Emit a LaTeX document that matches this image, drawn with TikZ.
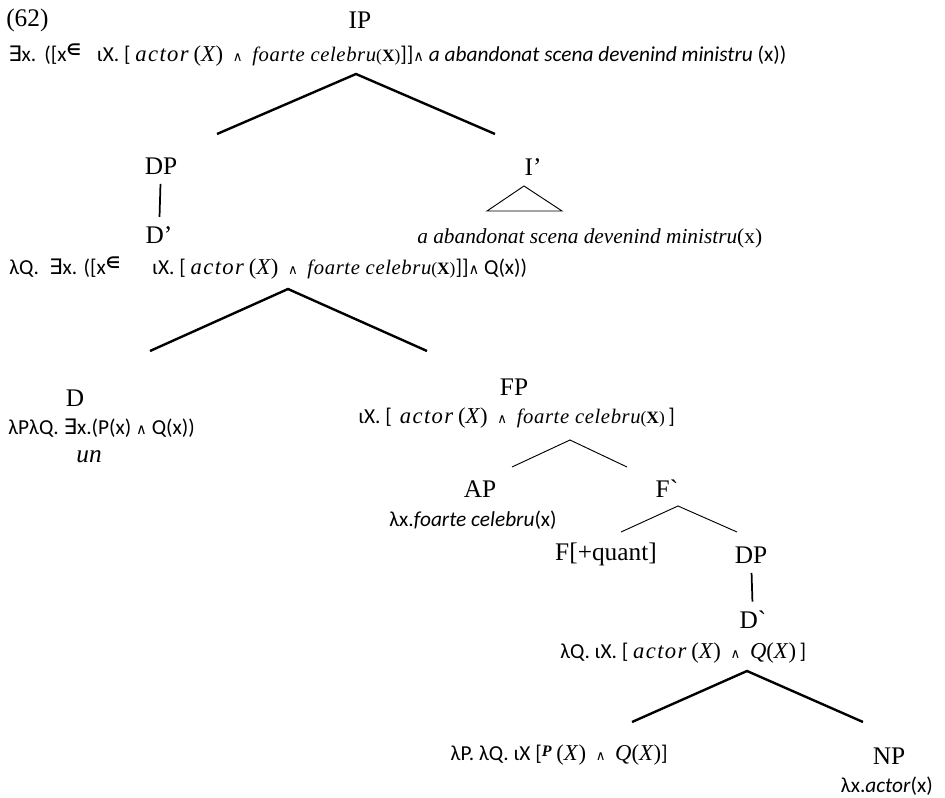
\documentclass[tikz,border=0pt]{standalone}
\usepackage{fontspec}
\setmainfont{Liberation Serif}
\newfontfamily\calib{Carlito}
\newfontfamily\symf{DejaVu Sans}
\newfontfamily\frmfont[LetterSpace=3]{Liberation Serif}
\newfontfamily\frmwide[LetterSpace=6]{Liberation Serif}

% pieces of the formulas
\newcommand{\actor}{{\frmwide\itshape\fontsize{17}{17}\selectfont actor}}
\newcommand{\fcel}{{\frmfont\itshape\fontsize{15.5}{15.5}\selectfont foarte celebru}}
\newcommand{\fx}[1]{{\rmfamily\fontsize{17}{17}\selectfont(\textit{#1})}}
\newcommand{\fxb}{{\rmfamily\fontsize{13}{13}\selectfont(\textbf{X})}}
\newcommand{\fxq}{{\rmfamily\fontsize{17}{17}\selectfont\textit{Q}(\textit{X})}}
\newcommand{\fand}{{\symf\fontsize{10}{10}\selectfont ∧}}
\newcommand{\elem}{\raisebox{5pt}{\symf\bfseries\fontsize{12}{12}\selectfont ∈}}
\newcommand{\conj}{{\symf\fontsize{11}{11}\selectfont ∧}}

\begin{document}
\begin{tikzpicture}[x=0.75pt,y=-0.75pt,
    lab/.style={inner sep=0pt,font=\fontsize{19}{22}\selectfont},
    sem/.style={inner sep=0pt,anchor=west,font=\calib\fontsize{16}{18}\selectfont},
    branch/.style={line width=1.8pt},
    twig/.style={line width=0.7pt},
    stem/.style={line width=1.3pt,shorten <=7pt,shorten >=7pt}]
  \useasboundingbox (0,0) rectangle (945,798);

  % IP
  \node[lab,anchor=west] (ex) at (6,20) {(62)};
  \node[lab] (ip) at (360,20) {IP};
  \node[sem] (ip-sem) at (8,55) {{\symf ∃}x.\hspace{6pt}([x\elem\hspace{12pt}ιX. [\ \actor\ \fx{X}\ \ \fand\ \ \fcel\fxb]]\conj\ \textit{a abandonat scena devenind ministru} (x))};
  \coordinate (ip-top) at (356,74);
  \coordinate (ip-l) at (217,134);
  \coordinate (ip-r) at (495,134);
  \draw[branch] (ip-l) -- (ip-top) -- (ip-r);

  % DP and I'
  \node[lab] (dp) at (161,166) {DP};
  \node[lab] (dbar) at (159,235) {D’};
  \draw[stem] (dp) -- (dbar);
  \node[lab] (ibar) at (533,167) {I’};
  \coordinate (tri-top) at (524,186);
  \coordinate (tri-l) at (487,211);
  \coordinate (tri-r) at (562,211);
  \draw[twig] (tri-l) -- (tri-top) -- (tri-r) -- cycle;
  \node[lab,anchor=west,font=\fontsize{16}{19}\selectfont\itshape] (ibar-sem) at (417,238) {a abandonat scena devenind ministru\textup{(x)}};

  % D'
  \node[sem] (dbar-sem) at (9,268) {λQ.\hspace{4pt} {\symf ∃}x. ([x\elem\hspace{24pt}ιX. [\ \actor\ \fx{X}\ \ \fand\ \ \fcel\fxb]]\conj\ Q(x))};
  \coordinate (dbar-top) at (288,289);
  \coordinate (dbar-l) at (150,351);
  \coordinate (dbar-r) at (427,351);
  \draw[branch] (dbar-l) -- (dbar-top) -- (dbar-r);

  % D
  \node[lab] (d) at (75,398) {D};
  \node[sem] (d-sem) at (8,428) {λPλQ. {\symf ∃}x.(P(x) \conj\ Q(x))};
  \node[lab,font=\fontsize{19}{22}\selectfont\itshape] (un) at (89,457) {un};

  % FP
  \node[lab] (fp) at (514,387) {FP};
  \node[sem] (fp-sem) at (358,418) {ιX. [\hspace{6pt}\actor\ \fx{X}\ \ \fand\ \ \fcel\fxb\,]};
  \coordinate (fp-top) at (570,440);
  \coordinate (fp-l) at (512,467);
  \coordinate (fp-r) at (627,467);
  \draw[twig] (fp-l) -- (fp-top) -- (fp-r);

  \node[lab] (ap) at (480,489) {AP};
  \node[sem,anchor=center] (ap-sem) at (473,520) {λx.\textit{foarte celebru}(x)};
  \node[lab] (fbar) at (667,489) {F\textasciigrave};
  \coordinate (fbar-top) at (678,506);
  \coordinate (fbar-l) at (621,532);
  \coordinate (fbar-r) at (737,532);
  \draw[twig] (fbar-l) -- (fbar-top) -- (fbar-r);

  \node[lab] (f) at (606,554) {F[+quant]};
  \node[lab] (dp2) at (751,555) {DP};
  \node[lab] (dbar2) at (753,620) {D\textasciigrave};
  \draw[stem] (dp2) -- (dbar2);
  \node[sem] (dbar2-sem) at (560,653) {λQ. ιX. [\ \actor\ \fx{X}\ \ \fand\ \ \fxq\,]};
  \coordinate (dbar2-top) at (747,671);
  \coordinate (dbar2-l) at (632,722);
  \coordinate (dbar2-r) at (863,722);
  \draw[branch] (dbar2-l) -- (dbar2-top) -- (dbar2-r);

  % lowest level
  \node[sem,anchor=east] (p-sem) at (668,755) {λP. λQ. ιX [\raisebox{3pt}{\rmfamily\itshape\bfseries\fontsize{12}{12}\selectfont P} \fx{X}\ \ \fand\ \ \fxq]};
  \node[lab] (np) at (889,756) {NP};
  \node[sem,anchor=east] (np-sem) at (933,786) {λx.\textit{actor}(x)};
\end{tikzpicture}
\end{document}
